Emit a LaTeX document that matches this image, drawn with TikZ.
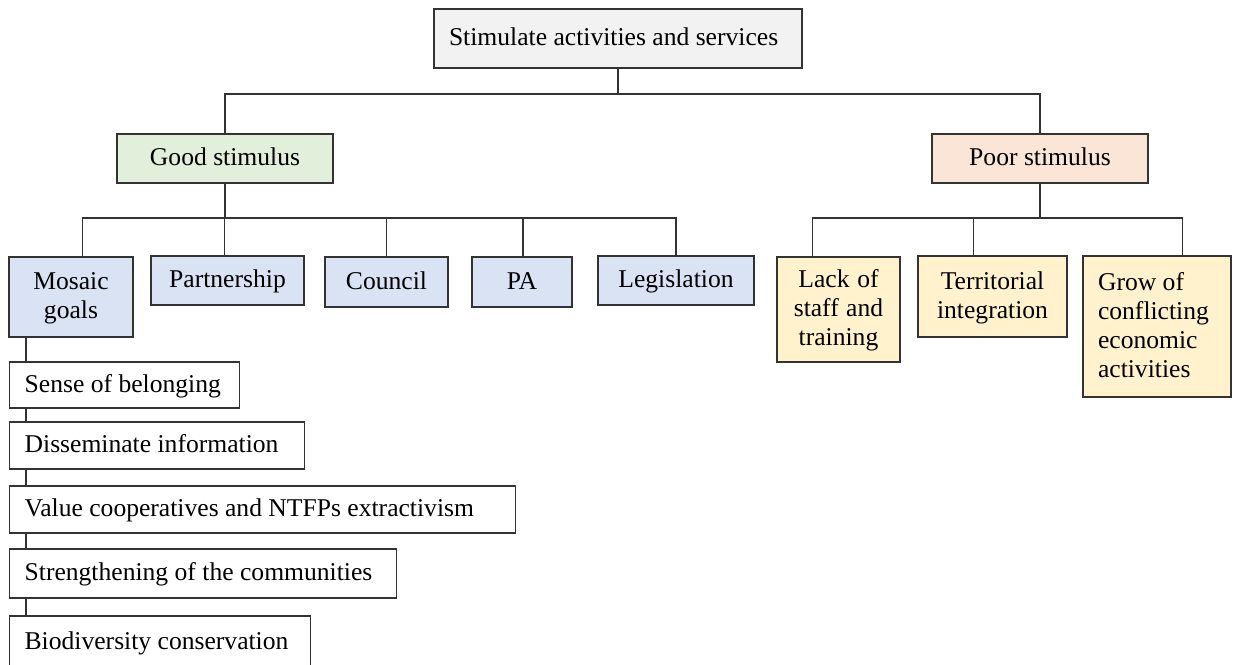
\documentclass[tikz,border=0pt]{standalone}
\usepackage{fontspec}
\setmainfont{Liberation Serif}
\definecolor{topfill}{HTML}{F2F2F2}
\definecolor{goodfill}{HTML}{E2EFDA}
\definecolor{poorfill}{HTML}{FBE5D6}
\definecolor{bluefill}{HTML}{DAE3F3}
\definecolor{yellowfill}{HTML}{FFF2CC}
\definecolor{edge}{HTML}{333333}
% line strut: one baselineskip tall, shared by every box text
\newcommand\boxstrut{\rule[-7.2pt]{0pt}{29pt}}
\begin{document}
\begin{tikzpicture}[x=1pt,y=-1pt,
  box/.style={draw=edge, line width=1.3pt, inner sep=0pt, align=center,
    font=\fontsize{25.6}{29}\selectfont,
    execute at begin node={\spaceskip=0pt\xspaceskip=0pt\boxstrut},
    execute at end node=\boxstrut},
  listbox/.style={box, fill=white, anchor=west, inner xsep=15pt, align=left},
  link/.style={draw=edge, line width=1.3pt}]
\useasboundingbox (0,0) rectangle (1233,664);

% root
\node[box, fill=topfill, minimum width=368pt, minimum height=59pt,
      text width=338pt, inner xsep=15pt, align=left] (top) at (618,38.5)
      {\mbox{Stimulate activities and services}};

% first level
\node[box, fill=goodfill, minimum width=216pt, minimum height=49pt] (good) at (225,158.5) {Good stimulus};
\node[box, fill=poorfill, minimum width=216pt, minimum height=49pt] (poor) at (1040,158.5) {Poor stimulus};

% good stimulus branch
\node[box, fill=bluefill, text width=124pt, minimum height=80pt] (mosaic) at (71,297) {Mosaic\\goals};
\node[box, fill=bluefill, minimum width=153pt, minimum height=49pt] (partner) at (227.5,280.5) {Partnership};
\node[box, fill=bluefill, minimum width=123pt, minimum height=50pt] (council) at (386.5,282) {Council};
\node[box, fill=bluefill, minimum width=100pt, minimum height=50pt] (pa) at (522,282) {PA};
\node[box, fill=bluefill, minimum width=156pt, minimum height=49pt] (legis) at (676,280.5) {Legislation};

% poor stimulus branch
\node[box, fill=yellowfill, text width=123pt, minimum height=105pt] (lack) at (838.5,309.5) {Lack of\\staff and\\training};
\node[box, fill=yellowfill, text width=149pt, minimum height=81pt] (territ) at (992.5,296.5) {Territorial\\integration};
\node[box, fill=yellowfill, text width=118pt, inner xsep=15pt, minimum height=141pt, align=left] (grow) at (1157,326.5) {Grow of\\conflicting\\economic\\activities};

% mosaic goals list
\node[listbox, minimum height=46pt, text width=200pt] (sense) at (9,385) {\mbox{Sense of belonging}};
\node[listbox, minimum height=47pt, text width=265pt] (diss) at (9,445.5) {\mbox{Disseminate information}};
\node[listbox, minimum height=47pt, text width=476pt] (value) at (9,509.5) {\mbox{Value cooperatives and NTFPs extractivism}};
\node[listbox, minimum height=49pt, text width=357pt] (strength) at (9,573.5) {\mbox{Strengthening of the communities}};
\node[listbox, minimum height=52pt, text width=271pt] (bio) at (9,642) {\mbox{Biodiversity conservation}};

% bus lines
\coordinate (rootbus) at (0,94);
\coordinate (goodbus) at (0,218);
\coordinate (poorbus) at (0,218);
\coordinate (spine) at (26,0);

\draw[link] (top.south) -- (top.south |- rootbus);
\draw[link] (good.north) -- (good.north |- rootbus) -| (poor.north);

\draw[link] (good.south) -- (good.south |- goodbus);
\draw[link] ([xshift=74pt]mosaic.north west) -- ([xshift=74pt]mosaic.north west |- goodbus)
  -| (legis.north);
\draw[link] ([xshift=74pt]partner.north west) -- ([xshift=74pt]partner.north west |- goodbus);
\draw[link] (council.north) -- (council.north |- goodbus);
\draw[link] ([xshift=1pt]pa.north) -- ([xshift=1pt]pa.north |- goodbus);

\draw[link] (poor.south) -- (poor.south |- poorbus);
\draw[link] ([xshift=36pt]lack.north west) -- ([xshift=36pt]lack.north west |- poorbus)
  -| ([xshift=100pt]grow.north west);
\draw[link] ([xshift=56pt]territ.north west) -- ([xshift=56pt]territ.north west |- poorbus);

% list spine
\draw[link] (mosaic.south -| spine) -- (sense.north -| spine);
\draw[link] (sense.south -| spine) -- (diss.north -| spine);
\draw[link] (diss.south -| spine) -- (value.north -| spine);
\draw[link] (value.south -| spine) -- (strength.north -| spine);
\draw[link] (strength.south -| spine) -- (bio.north -| spine);
\end{tikzpicture}
\end{document}
